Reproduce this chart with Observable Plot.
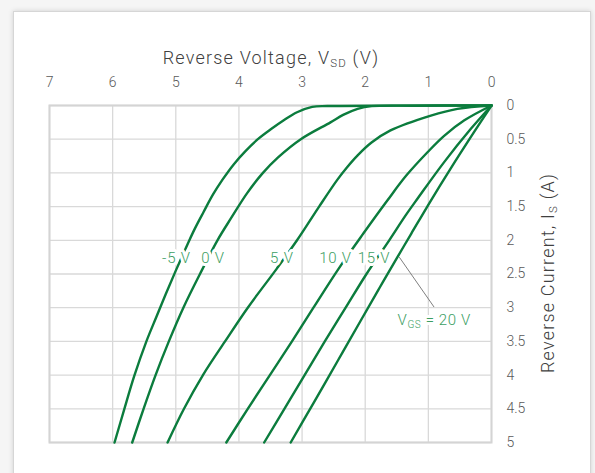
<!DOCTYPE html>
<html><head><meta charset="utf-8">
<script src="https://cdn.jsdelivr.net/npm/d3@7"></script>
<script src="https://cdn.jsdelivr.net/npm/@observablehq/plot@0.6"></script>
<style>
html,body{margin:0;padding:0;width:595px;height:473px;overflow:hidden;background:#f5f5f5;}
#panel{position:absolute;left:13px;top:11px;width:576px;height:470px;background:#fff;border:1px solid #d6d6d6;box-shadow:0 0 5px rgba(0,0,0,0.15);}
#chart{position:absolute;left:0;top:0;}
</style></head><body><div id="panel"></div><div id="chart"></div>
<script>
// Reverse voltage V_SD (V) vs reverse current I_S (A), pairs [V, I]
const seriesNames = ["-5 V", "0 V", "5 V", "10 V", "15 V", "20 V"];
const vgsM5 = [[0,0],[1.5,0.002],[2.6,0.008],[2.84,0.02],[3.08,0.1],[3.29,0.22],[3.49,0.35],[3.7,0.5],[3.9,0.68],[4.08,0.87],[4.26,1.1],[4.41,1.32],[4.56,1.58],[4.7,1.83],[4.81,2.05],[5.0,2.45],[5.16,2.8],[5.3,3.12],[5.47,3.51],[5.66,4.02],[5.82,4.52],[5.97,5.0]];
const vgs0 = [[0,0],[1.2,0.003],[1.9,0.01],[2.12,0.05],[2.35,0.14],[2.55,0.25],[3.02,0.5],[3.38,0.77],[3.62,1.0],[3.87,1.3],[4.13,1.68],[4.34,2.0],[4.59,2.45],[4.88,3.0],[5.11,3.5],[5.32,4.0],[5.51,4.5],[5.69,5.0]];
const vgs5 = [[0,0],[0.54,0.05],[0.96,0.15],[1.6,0.37],[1.9,0.55],[2.12,0.74],[2.29,0.92],[2.44,1.1],[2.73,1.5],[3.08,2.0],[3.4,2.42],[3.86,3.0],[4.22,3.5],[4.57,4.0],[4.87,4.5],[5.13,5.0]];
const vgs10 = [[0,0],[0.43,0.22],[0.75,0.45],[1.01,0.69],[1.35,1.04],[1.65,1.41],[2.03,1.9],[2.42,2.42],[2.82,3.0],[3.16,3.5],[3.51,4.0],[3.86,4.5],[4.2,5.0]];
const vgs15 = [[0,0],[0.33,0.35],[0.75,0.84],[1.17,1.38],[1.36,1.63],[1.62,2.0],[1.98,2.5],[2.31,3.0],[2.64,3.5],[2.96,4.0],[3.28,4.5],[3.6,5.0]];
const vgs20 = [[0,0],[0.28,0.4],[0.65,0.94],[0.96,1.41],[1.27,1.9],[1.49,2.25],[1.77,2.7],[2.07,3.19],[2.43,3.78],[2.81,4.4],[3.18,5.0]];
const xTicks = [7,6,5,4,3,2,1,0];
const yTicks = [0,0.5,1,1.5,2,2.5,3,3.5,4,4.5,5];
// inline curve labels
const labelText = ["-5 V","0 V","5 V","10 V","15 V"];
const labelV = [4.99, 4.41, 3.32, 2.47, 1.86];
const labelI = [2.27, 2.27, 2.27, 2.27, 2.27];
// callout for V_GS = 20 V
const calloutV = [1.46, 0.91];
const calloutI = [2.25, 2.99];
const calloutTextV = 0.9, calloutTextI = 3.18;

const lineColor = "#0b7c3d";
const labelColor = "#3c9e63";
const font = "Roboto, 'Open Sans', sans-serif";

const rows = [];
[vgsM5, vgs0, vgs5, vgs10, vgs15, vgs20].forEach((arr, k) => arr.forEach(([v, i]) => rows.push({s: seriesNames[k], v, i})));
const labels = labelText.map((t, k) => ({t, v: labelV[k], i: labelI[k]}));

const plot = Plot.plot({
  width: 595, height: 473,
  marginLeft: 49, marginRight: 104, marginTop: 105, marginBottom: 31,
  style: {background: "transparent", fontFamily: font, fontSize: "14px", color: "#595959", fontWeight: 300},
  x: {domain: [7, 0]},
  y: {domain: [0, 5], reverse: true},
  marks: [
    Plot.gridX(xTicks, {stroke: "#d9d9d9", strokeOpacity: 1, strokeWidth: 1.3}),
    Plot.gridY(yTicks, {stroke: "#d9d9d9", strokeOpacity: 1, strokeWidth: 1.3}),
    Plot.frame({stroke: "#d4d4d4", strokeWidth: 2}),
    Plot.axisX(xTicks, {anchor: "top", tickSize: 0, tickPadding: 19, label: null, tickFormat: d => String(d)}),
    Plot.axisY(yTicks, {anchor: "right", tickSize: 0, tickPadding: 15, label: null, tickFormat: d => String(d)}),
    Plot.line(rows, {x: "v", y: "i", z: "s", stroke: lineColor, strokeWidth: 2.4, curve: "catmull-rom"}),
    Plot.link([0], {x1: () => calloutV[0], y1: () => calloutI[0], x2: () => calloutV[1], y2: () => calloutI[1], stroke: "#7f7f7f", strokeWidth: 1}),
    Plot.text(labels, {x: "v", y: "i", text: "t", fill: labelColor, stroke: "white", strokeWidth: 6, fontSize: 15})
  ]
});
document.getElementById("chart").appendChild(plot);

const svg = d3.select(plot);
svg.selectAll("g[aria-label='text'] text").style("letter-spacing", "0.8px");
const sx = plot.scale("x"), sy = plot.scale("y");
// x title
const xt = svg.append("text").attr("x", 271).attr("y", 64).attr("text-anchor", "middle")
  .attr("font-family", font).attr("font-size", 18).attr("font-weight", 300).attr("fill", "#404040").style("letter-spacing", "1.2px");
xt.append("tspan").text("Reverse Voltage, V");
xt.append("tspan").attr("font-size", 11.5).attr("dy", 3).text("SD");
xt.append("tspan").attr("dy", -3).text(" (V)");
// y title
const yt = svg.append("text").attr("transform", "translate(554,273) rotate(-90)").attr("text-anchor", "middle")
  .attr("font-family", font).attr("font-size", 18).attr("font-weight", 300).attr("fill", "#404040").style("letter-spacing", "1.2px");
yt.append("tspan").text("Reverse Current, I");
yt.append("tspan").attr("font-size", 11.5).attr("dy", 3).text("S");
yt.append("tspan").attr("dy", -3).text(" (A)");
// callout label
const ct = svg.append("text").attr("x", sx.apply(calloutTextV)).attr("y", sy.apply(calloutTextI) + 5.5).attr("text-anchor", "middle")
  .attr("font-family", font).attr("font-size", 15).attr("font-weight", 300).attr("fill", labelColor)
  .attr("stroke", "white").attr("stroke-width", 6).attr("paint-order", "stroke").style("letter-spacing", "0.6px");
ct.append("tspan").text("V");
ct.append("tspan").attr("font-size", 10).attr("dy", 3).text("GS");
ct.append("tspan").attr("dy", -3).text(" = 20 V");
</script></body></html>
